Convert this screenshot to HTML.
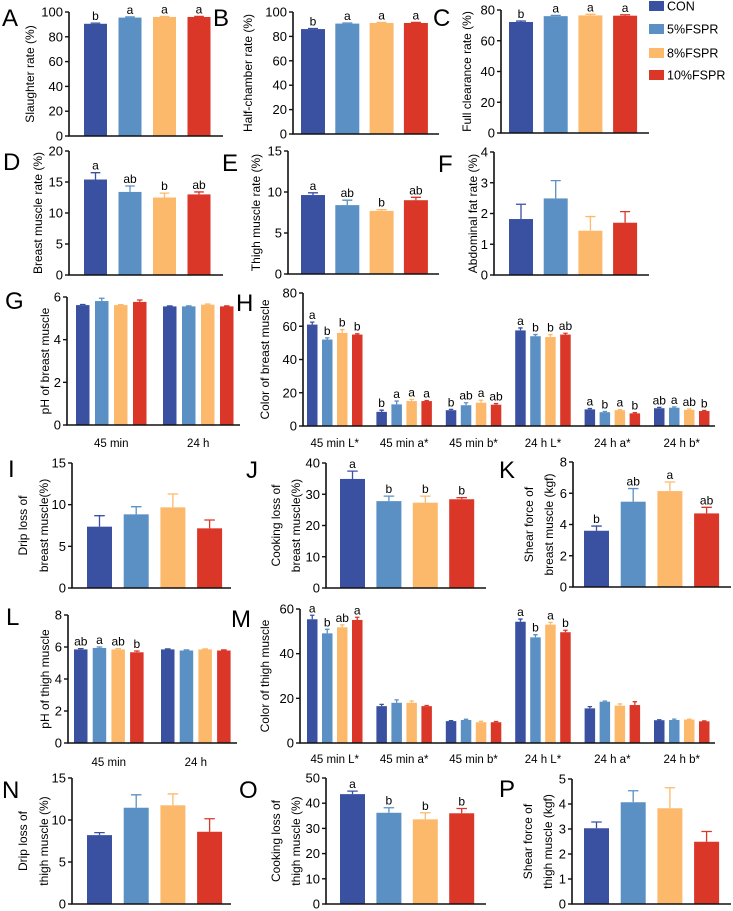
<!DOCTYPE html>
<html><head><meta charset="utf-8"><style>
body{margin:0;background:#fff}
svg{display:block;font-family:"Liberation Sans",Arial,sans-serif}
</style></head><body>
<svg id="fig" width="733" height="911" viewBox="0 0 733 911"></svg>
<script>
const seriesNames=["CON","5%FSPR","8%FSPR","10%FSPR"];
const seriesColors=["#3a51a2","#5b90c4","#fdb96b","#da3729"];
const colorCats=["45 min L*","45 min a*","45 min b*","24 h L*","24 h a*","24 h b*"];
const phCats=["45 min","24 h"];

const A_vals=[[90.5,95.5,96,96]];const A_err=[[91,96,96.5,96.5]];const A_let=[["b","a","a","a"]];
const B_vals=[[86,90.5,91,91]];const B_err=[[86.5,91,91.5,91.5]];const B_let=[["b","a","a","a"]];
const C_vals=[[72.2,76,76.5,76.3]];const C_err=[[72.8,76.5,77.2,76.9]];const C_let=[["b","a","a","a"]];
const D_vals=[[15.4,13.4,12.5,13.0]];const D_err=[[16.5,14.35,13.2,13.4]];const D_let=[["a","ab","b","ab"]];
const E_vals=[[9.63,8.4,7.7,9.0]];const E_err=[[9.9,9.0,7.85,9.35]];const E_let=[["a","ab","b","ab"]];
const F_vals=[[1.82,2.49,1.44,1.7]];const F_err=[[2.3,3.07,1.9,2.06]];const F_let=[["","","",""]];
const G_vals=[[5.62,5.81,5.62,5.77],[5.56,5.56,5.64,5.56]];const G_err=[[5.65,5.94,5.64,5.86],[5.58,5.58,5.67,5.58]];const G_let=[["","","",""],["","","",""]];
const H_vals=[[61,52,56,55],[8.5,13,15,15],[9.5,12.5,14,12.8],[57.5,54,53.5,55],[10,8.3,9.5,7.6],[10.7,11,9.7,9]];
const H_err=[[62.5,53,58,55.5],[9.5,15,16,15.3],[10,14,15.5,13.5],[59,55,55,55.8],[10.5,8.7,9.8,8],[11.2,11.5,10.2,9.3]];
const H_let=[["a","b","b","b"],["b","a","a","a"],["b","ab","a","ab"],["a","b","b","ab"],["a","b","a","b"],["ab","a","ab","b"]];
const I_vals=[[7.36,8.84,9.68,7.16]];const I_err=[[8.68,9.76,11.28,8.16]];const I_let=[["","","",""]];
const J_vals=[[34.9,27.8,27.3,28.4]];const J_err=[[37.4,29.4,29.4,28.9]];const J_let=[["a","b","b","b"]];
const K_vals=[[3.6,5.46,6.14,4.71]];const K_err=[[3.9,6.3,6.72,5.1]];const K_let=[["b","ab","a","ab"]];
const L_vals=[[5.85,5.94,5.85,5.67],[5.85,5.78,5.85,5.78]];const L_err=[[5.9,6.0,5.9,5.75],[5.88,5.82,5.88,5.82]];const L_let=[["ab","a","ab","b"],["","","",""]];
const M_vals=[[55.4,49.1,51.8,55.1],[16.5,18,18,16.5],[9.8,10.3,9.3,9.3],[54.3,47.3,53,49.6],[15.5,18.5,16.7,17],[10.2,10.3,10.5,9.7]];
const M_err=[[57.2,50.9,52.9,56.3],[17.3,19.3,18.8,16.8],[10,10.6,9.7,9.6],[55.5,48.5,54,50.5],[16.3,18.8,17.5,18.5],[10.4,10.7,10.7,9.9]];
const M_let=[["a","b","ab","a"],["","","",""],["","","",""],["a","b","a","b"],["","","",""],["","","",""]];
const N_vals=[[8.2,11.46,11.75,8.6]];const N_err=[[8.5,13,13.1,10.15]];const N_let=[["","","",""]];
const O_vals=[[43.6,36.2,33.6,36]];const O_err=[[44.8,38.2,36.2,37.9]];const O_let=[["a","b","b","b"]];
const P_vals=[[3.03,4.07,3.83,2.49]];const P_err=[[3.28,4.53,4.65,2.9]];const P_let=[["","","",""]];

const A_ticks=[0,20,40,60,80,100];const C_ticks=[0,20,40,60,80];const D_ticks=[0,5,10,15,20];
const E_ticks=[0,5,10,15];const F_ticks=[0,1,2,3,4];const G_ticks=[0,2,4,6];const H_ticks=[0,20,40,60,80];
const J_ticks=[0,10,20,30,40];const K_ticks=[0,2,4,6,8];const L_ticks=[0,2,4,6,8];const M_ticks=[0,20,40,60];
const O_ticks=[0,10,20,30,40,50];const P_ticks=[0,1,2,3,4,5];

const NS="http://www.w3.org/2000/svg";
const svg=document.getElementById('fig');
function mk(tag,attrs,parent,text){const e=document.createElementNS(NS,tag);for(const k in attrs)e.setAttribute(k,attrs[k]);if(text!==undefined)e.textContent=text;(parent||svg).appendChild(e);return e;}

const panels=[
{id:"A",ax:69,xEnd:223,y0:136,yTop:12,max:100,ticks:A_ticks,b0:84,bw:23,st:34.5,gs:0,vals:A_vals,err:A_err,let:A_let,ylab:["Slaughter rate (%)"],ylx:[30],lx:2,ly:26},
{id:"B",ax:293,xEnd:439,y0:134,yTop:12,max:100,ticks:A_ticks,b0:301,bw:24,st:34.3,gs:0,vals:B_vals,err:B_err,let:B_let,ylab:["Half-chamber rate (%)"],ylx:[248],lx:213,ly:26},
{id:"C",ax:501,xEnd:649,y0:133,yTop:10,max:80,ticks:C_ticks,b0:509,bw:24,st:34.7,gs:0,vals:C_vals,err:C_err,let:C_let,ylab:["Full clearance rate (%)"],ylx:[467],lx:433,ly:26},
{id:"D",ax:69,xEnd:223,y0:275,yTop:151,max:20,ticks:D_ticks,b0:84,bw:23,st:34.5,gs:0,vals:D_vals,err:D_err,let:D_let,ylab:["Breast muscle rate (%)"],ylx:[38],lx:3,ly:170},
{id:"E",ax:288,xEnd:439,y0:274,yTop:151,max:15,ticks:E_ticks,b0:301,bw:24,st:34.3,gs:0,vals:E_vals,err:E_err,let:E_let,ylab:["Thigh muscle rate (%)"],ylx:[256],lx:222,ly:171},
{id:"F",ax:494,xEnd:649,y0:275,yTop:152,max:4,ticks:F_ticks,b0:509,bw:24,st:34.7,gs:0,vals:F_vals,err:F_err,let:F_let,ylab:["Abdominal fat rate (%)"],ylx:[473],lx:438,ly:172},
{id:"G",ax:67,xEnd:240,y0:425,yTop:297,max:6,ticks:G_ticks,b0:76,bw:13.5,st:19,gs:87,vals:G_vals,err:G_err,let:G_let,cats:phCats,caty:447,ylab:["pH of breast muscle"],ylx:[45],lx:5,ly:309},
{id:"H",ax:303,xEnd:715,y0:426,yTop:293,max:80,ticks:H_ticks,b0:307,bw:10.5,st:15,gs:69.4,vals:H_vals,err:H_err,let:H_let,cats:colorCats,caty:447,ylab:["Color of breast muscle"],ylx:[265],lx:236,ly:311},
{id:"I",ax:72,xEnd:231,y0:588,yTop:463,max:15,ticks:E_ticks,b0:87,bw:25,st:36.7,gs:0,vals:I_vals,err:I_err,let:I_let,ylab:["Drip loss of","breast muscle(%)"],ylx:[23,44],lx:8,ly:477},
{id:"J",ax:326,xEnd:486,y0:588,yTop:463,max:40,ticks:J_ticks,b0:340,bw:25,st:36.4,gs:0,vals:J_vals,err:J_err,let:J_let,ylab:["Cooking loss of","breast muscle(%)"],ylx:[276,296],lx:246,ly:478},
{id:"K",ax:573,xEnd:731,y0:587,yTop:462,max:8,ticks:K_ticks,b0:584,bw:25,st:36.7,gs:0,vals:K_vals,err:K_err,let:K_let,ylab:["Shear force of","breast muscle (kgf)"],ylx:[529,549],lx:499,ly:478},
{id:"L",ax:68,xEnd:237,y0:743,yTop:615,max:8,ticks:L_ticks,b0:74,bw:13.5,st:18.7,gs:87,vals:L_vals,err:L_err,let:L_let,cats:phCats,caty:766,ylab:["pH of thigh muscle"],ylx:[45],lx:6,ly:625},
{id:"M",ax:300,xEnd:715,y0:743,yTop:609,max:60,ticks:M_ticks,b0:307,bw:10.5,st:15,gs:69.4,vals:M_vals,err:M_err,let:M_let,cats:colorCats,caty:763,ylab:["Color of thigh muscle"],ylx:[265],lx:231,ly:627},
{id:"N",ax:72,xEnd:231,y0:904,yTop:778,max:15,ticks:E_ticks,b0:87,bw:25,st:36.7,gs:0,vals:N_vals,err:N_err,let:N_let,ylab:["Drip loss  of","thigh muscle (%)"],ylx:[23,44],lx:2,ly:798},
{id:"O",ax:326,xEnd:486,y0:904,yTop:778,max:50,ticks:O_ticks,b0:340,bw:25,st:36.4,gs:0,vals:O_vals,err:O_err,let:O_let,ylab:["Cooking loss of","thigh muscle (%)"],ylx:[276,296],lx:239,ly:798},
{id:"P",ax:572,xEnd:731,y0:904,yTop:779,max:5,ticks:P_ticks,b0:584,bw:25,st:36.7,gs:0,vals:P_vals,err:P_err,let:P_let,ylab:["Shear force of","thigh muscle (kgf)"],ylx:[528,548],lx:499,ly:797}
];

function drawPanel(p){
  const g=mk('g',{});
  
  
  const y=v=>p.y0-(v/p.max)*(p.y0-p.yTop);
  const xb=(gi,si)=>p.b0+gi*p.gs+si*p.st;
  const lt=mk('text',{x:p.lx,y:p.ly,'font-size':24},g,p.id);
  
  
  p.vals.forEach((grp,gi)=>{
    grp.forEach((v,si)=>{
      const x=xb(gi,si),cx=x+p.bw/2,c=seriesColors[si];
      const r=mk('rect',{x:x,y:y(v),width:p.bw,height:p.y0-y(v),fill:c},g);
      
      
      const e=p.err[gi][si],ey=y(e),cw=p.bw*0.42;
      const el=mk('path',{d:`M${cx} ${y(v)}V${ey}M${cx-cw/2} ${ey}H${cx+cw/2}`,stroke:c,'stroke-width':1.3,fill:'none'},g);
      
      
      const L=p.let[gi][si];
      if(L){const t=mk('text',{x:cx,y:ey-3,'font-size':12,'text-anchor':'middle'},g,L);
        
        }
    });
  });
  const ax=mk('path',{d:`M${p.ax} ${p.yTop}V${p.y0}H${p.xEnd}`,stroke:'#111','stroke-width':1.6,fill:'none'},g);
  
  
  p.ticks.forEach(tv=>{
    const ty=y(tv);
    mk('line',{x1:p.ax-4,x2:p.ax,y1:ty,y2:ty,stroke:'#111','stroke-width':1.4},g);
    const t=mk('text',{x:p.ax-6,y:ty+4.5,'font-size':13,'text-anchor':'end'},g,String(tv));
    
    
  });
  if(p.cats){p.cats.forEach((c,gi)=>{
    const cx=(xb(gi,0)+xb(gi,3)+p.bw)/2;
    const t=mk('text',{x:cx,y:p.caty,'font-size':11.5,'text-anchor':'middle'},g,c);
    
    
  });}
  const cy=(p.yTop+p.y0)/2;
  p.ylab.forEach((s,i)=>{
    const lx=p.ylx[i];
    const t=mk('text',{x:lx,y:cy,'font-size':12,'text-anchor':'middle','dominant-baseline':'central',transform:`rotate(-90 ${lx} ${cy})`},g,s);
    
    
  });
}
panels.forEach(drawPanel);

const lg=mk('g',{});


const legY=[6,29,53,75];
seriesNames.forEach((n,i)=>{
  const r=mk('rect',{x:649,y:legY[i]-5,width:15,height:10,fill:seriesColors[i]},lg);
  
  
  const t=mk('text',{x:667,y:legY[i]+4.5,'font-size':12.5},lg,n);
  
  
});
</script>
</body></html>
